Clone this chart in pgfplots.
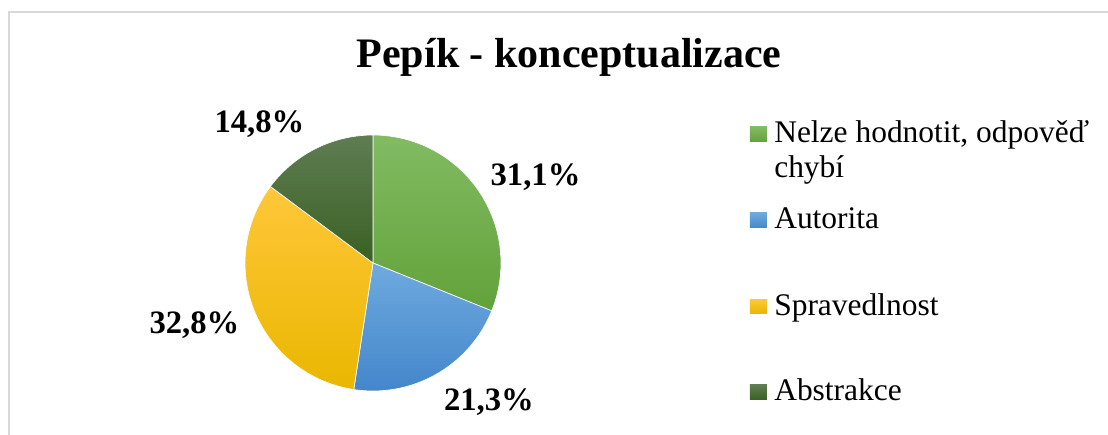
\documentclass[border=0pt]{standalone}
\usepackage{pgfplots}
\pgfplotsset{compat=1.18}
\usepackage{fontspec}
\setmainfont{Liberation Serif}

\definecolor{gTop}{HTML}{82BB62}
\definecolor{gBot}{HTML}{62A23A}
\definecolor{bTop}{HTML}{6FAADF}
\definecolor{bBot}{HTML}{4386CB}
\definecolor{yTop}{HTML}{FFC73A}
\definecolor{yBot}{HTML}{E9B700}
\definecolor{dTop}{HTML}{5F7D52}
\definecolor{dBot}{HTML}{3A6024}
\definecolor{frame}{HTML}{D9D9D9}

% legend key: square at y (top of key), then text with baseline below it
\newcommand{\lkey}[4]{%
  \path[top color=#2, bottom color=#3] (axis cs:2.945,#1) rectangle (axis cs:3.078,{#1-0.117});
  \node[anchor=base west, inner sep=0pt, font=\fontsize{23.6}{26.25}\selectfont]
    at (axis cs:3.133,{#1-0.125}) {\parbox[t]{300pt}{\raggedright #4}};}

\begin{document}
\begin{tikzpicture}
\path[use as bounding box] (0,0) rectangle (831pt,326.25pt);
\draw[color=frame, line width=1.1pt] (6.75pt,0) -- (6.75pt,317.25pt) -- (831pt,317.25pt);
\node[font=\fontsize{31.5}{36}\selectfont\bfseries, anchor=base] at (426.75pt,275.25pt) {Pepík - konceptualizace};
\begin{axis}[
    at={(279.75pt,129pt)}, anchor=center,
    width=192pt, height=192pt, scale only axis,
    hide axis, clip=false,
    xmin=-1, xmax=1, ymin=-1, ymax=1,
]
% percentages: 31.1, 21.3, 32.8, 14.8 -- clockwise from 12 o'clock
\addplot[draw=white, line width=0.5pt, top color=gTop, bottom color=gBot,
    domain={90-3.6*31.1}:{90}, samples=80] ({cos(x)},{sin(x)}) -- (axis cs:0,0) -- cycle;
\addplot[draw=white, line width=0.5pt, top color=bTop, bottom color=bBot,
    domain={90-3.6*(31.1+21.3)}:{90-3.6*31.1}, samples=80] ({cos(x)},{sin(x)}) -- (axis cs:0,0) -- cycle;
\addplot[draw=white, line width=0.5pt, top color=yTop, bottom color=yBot,
    domain={90-3.6*(31.1+21.3+32.8)}:{90-3.6*(31.1+21.3)}, samples=80] ({cos(x)},{sin(x)}) -- (axis cs:0,0) -- cycle;
\addplot[draw=white, line width=0.5pt, top color=dTop, bottom color=dBot,
    domain={90-3.6*(31.1+21.3+32.8+14.8)}:{90-3.6*(31.1+21.3+32.8)}, samples=80] ({cos(x)},{sin(x)}) -- (axis cs:0,0) -- cycle;

\node[font=\fontsize{24.5}{28}\selectfont\bfseries, anchor=base] at (axis cs:1.27,0.609) {31,1\%};
\node[font=\fontsize{24.5}{28}\selectfont\bfseries, anchor=base] at (axis cs:0.906,-1.156) {21,3\%};
\node[font=\fontsize{24.5}{28}\selectfont\bfseries, anchor=base] at (axis cs:-1.395,-0.547) {32,8\%};
\node[font=\fontsize{24.5}{28}\selectfont\bfseries, anchor=base] at (axis cs:-0.887,1.016) {14,8\%};

\lkey{1.0625}{gTop}{gBot}{Nelze hodnotit, odpověď\\chybí}
\lkey{0.3906}{bTop}{bBot}{Autorita}
\lkey{-0.2813}{yTop}{yBot}{Spravedlnost}
\lkey{-0.9531}{dTop}{dBot}{Abstrakce}
\end{axis}
\end{tikzpicture}
\end{document}
